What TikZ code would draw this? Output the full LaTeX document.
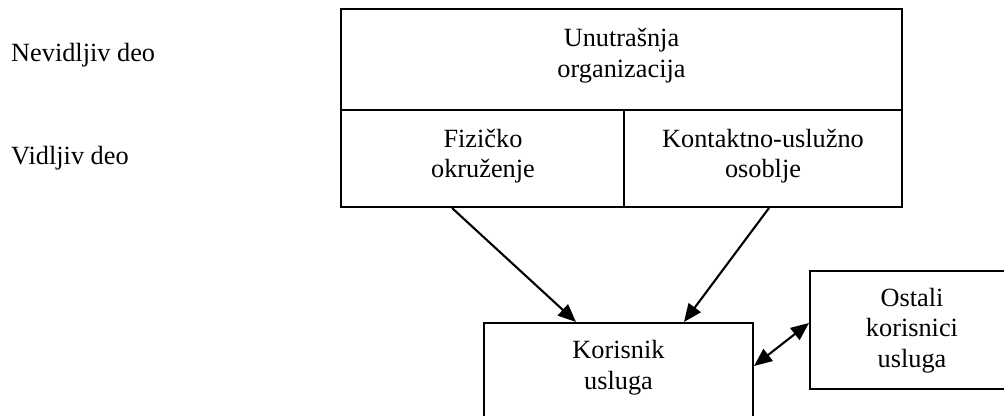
\documentclass[tikz,border=0pt]{standalone}
\usepackage{fontspec}
\setmainfont{Liberation Serif}
\usetikzlibrary{arrows.meta}
\begin{document}
\begin{tikzpicture}[x=1pt,y=-1pt,
  cell/.style={draw, line width=2pt, inner sep=0pt},
  txt/.style={font=\fontsize{26.3}{30.5}\selectfont, align=center, inner sep=0pt, anchor=base},
  side/.style={font=\fontsize{26.3}{30.5}\selectfont, inner sep=0pt, anchor=base west},
  link/.style={line width=2.1pt, -{Triangle[length=18pt,width=15pt]}},
  both/.style={line width=2.1pt, {Triangle[length=18pt,width=15pt]}-{Triangle[length=18pt,width=15pt]}}]
\useasboundingbox (0,0) rectangle (1004,415);
\clip (0,0) rectangle (1004,415);

% left-hand labels
\node[side] (nev) at (11,61) {Nevidljiv deo};
\node[side] (vid) at (11,164) {Vidljiv deo};

% organisation block: top cell and the two lower cells
\node[cell, minimum width=561pt, minimum height=101pt] (org) at (621.5,59.5) {};
\node[cell, minimum width=283pt, minimum height=97pt] (fiz) at (482.5,158.5) {};
\node[cell, minimum width=278pt, minimum height=97pt] (kon) at (763,158.5) {};

% customer boxes
\node[cell, minimum width=269pt, minimum height=160pt] (kor) at (618.5,403) {};
\node[cell, minimum width=204pt, minimum height=118pt] (ost) at (912,330) {};

% box texts (anchored on the baseline of the last line)
\node[txt] (torg) at (621.5,77) {Unutrašnja\\organizacija};
\node[txt] (tfiz) at (483,177.5) {Fizičko\\okruženje};
\node[txt] (tkon) at (763,177.5) {Kontaktno-uslužno\\osoblje};
\node[txt] (tkor) at (618.5,389) {Korisnik\\usluga};
\node[txt] (tost) at (912,367) {Ostali\\korisnici\\usluga};

% connectors
\draw[link] ([xshift=112pt]fiz.south west) -- ([xshift=93pt]kor.north west);
\draw[link] ([xshift=146pt]kon.south west) -- ([xshift=201pt]kor.north west);
\draw[both] ([yshift=-44pt]kor.north east) -- ([yshift=-53pt]ost.north west);
\end{tikzpicture}
\end{document}
